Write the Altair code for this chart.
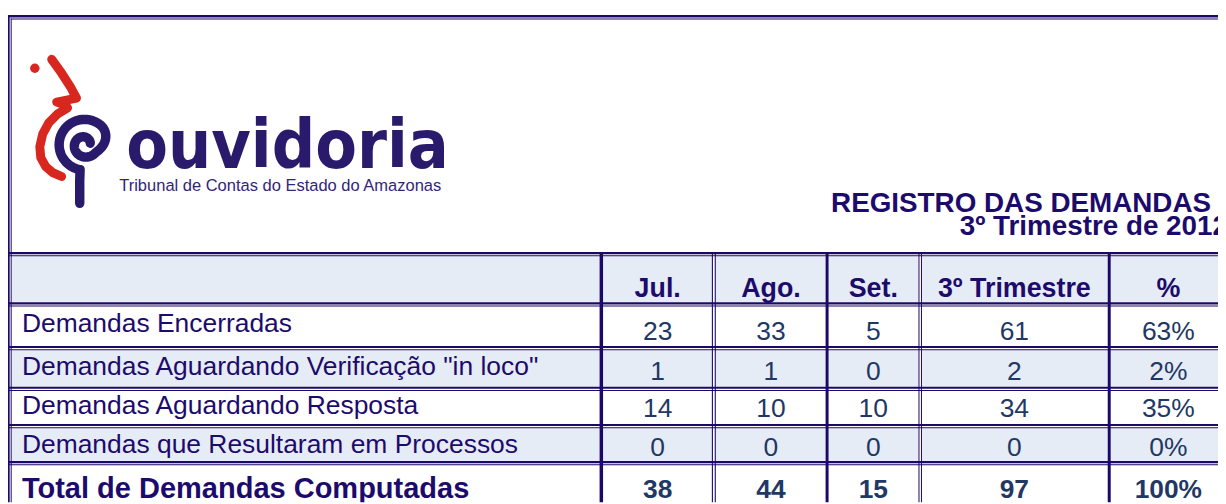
import math
import altair as alt
import pandas as pd

# ------------------------------------------------------------------ data
ROW_LABELS = [
    "Demandas Encerradas",
    'Demandas Aguardando Verificação "in loco"',
    "Demandas Aguardando Resposta",
    "Demandas que Resultaram em Processos",
]
TOTAL_LABEL = "Total de Demandas Computadas"
COLUMNS = ["Jul.", "Ago.", "Set.", "3º Trimestre", "%"]
JUL = [23, 1, 14, 0, 38]
AGO = [33, 1, 10, 0, 44]
SET = [5, 0, 10, 0, 15]
TRIMESTRE = [61, 2, 34, 0, 97]
PERCENT = ["63%", "2%", "35%", "0%", "100%"]
TITLE = "REGISTRO DAS DEMANDAS"
SUBTITLE = "3º Trimestre de 2012"
LOGO_WORD = "ouvidoria"
LOGO_TAGLINE = "Tribunal de Contas do Estado do Amazonas"

# ------------------------------------------------------------------ layout (page pixels)
W, H = 1218, 496
FONT = "Liberation Sans, Arial, Helvetica, sans-serif"
NAVY = "#1D0B6C"
LINE = "#1C0868"
NUM = "#1F3864"
SHADE = "#E6ECF6"
RED = "#D8271E"
LOGO_NAVY = "#2A1A6C"

COL_SPANS = [(12, 603.5), (607, 716.5), (720.5, 831), (834, 924.5), (928, 1115), (1118, 1236)]
COL_CENTERS = [662, 776, 879, 1021, 1176]
ROW_BOUNDS = [252, 302.5, 346.5, 387.5, 425, 462.3, 530]
SHADED = [True, False, True, False, True, False]
HEADER_Y = 297
LABEL_Y = [332, 376, 415, 454]
NUM_Y = [341, 381, 418, 457]
TOTAL_Y = 500

XS = alt.Scale(domain=[8, 8 + W], range=[0, W], nice=False, zero=False)
YS = alt.Scale(domain=[8, 8 + H], range=[0, H], nice=False, zero=False)


def xy():
    return dict(x=alt.X("x:Q", scale=XS, axis=None), y=alt.Y("y:Q", scale=YS, axis=None))


def rect_layer(rows, color):
    df = pd.DataFrame(rows, columns=["x", "x2", "y", "y2"])
    return alt.Chart(df).mark_rect(color=color, clip=True).encode(
        x2="x2:Q", y2="y2:Q", **xy()
    )


def text_layer(rows, size, weight="normal", color=NAVY, align="left", font=FONT):
    df = pd.DataFrame(rows, columns=["x", "y", "t"])
    return alt.Chart(df).mark_text(
        align=align, baseline="alphabetic", fontSize=size, fontWeight=weight,
        color=color, font=font, clip=True
    ).encode(text="t:N", **xy())


# cell fills
fills = []
for i, sh in enumerate(SHADED):
    if sh:
        for (a, b) in COL_SPANS:
            fills.append((a, b, ROW_BOUNDS[i] + 4.3, ROW_BOUNDS[i + 1]))
fill_layer = rect_layer(fills, SHADE)

# borders
lines = []
lines.append((7, 1240, 13.3, 16))
lines.append((10.7, 1240, 17, 18))
lines.append((7, 9.7, 13.3, 530))
lines.append((10.7, 11.7, 17, 530))
for b in ROW_BOUNDS[:-1]:
    lines.append((7, 1240, b, b + 2.2))
    lines.append((7, 1240, b + 3.3, b + 4.3))
top = ROW_BOUNDS[0]
for (a, b) in [(603.5, 607), (716.5, 717.6), (719.4, 720.5), (831, 834),
               (924.5, 925.5), (927, 928), (1115, 1118)]:
    lines.append((a, b, top, 530))
line_layer = rect_layer(lines, LINE)

# texts
title = text_layer([(1219, 212, TITLE)], 28, "bold", NAVY, "right")
subtitle = text_layer([(1236, 235, SUBTITLE)], 28, "bold", NAVY, "right")
header = text_layer([(c, HEADER_Y, t) for c, t in zip(COL_CENTERS, COLUMNS)],
                    27, "bold", NAVY, "center")
labels = text_layer([(22, y, t) for y, t in zip(LABEL_Y, ROW_LABELS)], 26.6, "normal", NAVY)
total_label = text_layer([(22, TOTAL_Y, TOTAL_LABEL)], 29.2, "bold", NAVY)

series = [JUL, AGO, SET, TRIMESTRE, PERCENT]
num_rows = []
tot_rows = []
for c, vals in zip(COL_CENTERS, series):
    for r in range(4):
        num_rows.append((c, NUM_Y[r], str(vals[r])))
    tot_rows.append((c, TOTAL_Y, str(vals[4])))
numbers = text_layer(num_rows, 26.6, "normal", NUM, "center")
totals = text_layer(tot_rows, 26.5, "bold", NUM, "center")

# logo
logo_word = text_layer([(127, 167, LOGO_WORD)], 68, "bold", LOGO_NAVY, "left",
                       "Liberation Sans Narrow, DejaVu Sans Condensed, Arial Narrow, Liberation Sans, sans-serif")
logo_tag = text_layer([(120, 191, LOGO_TAGLINE)], 16.6, "normal", "#33257A", "left")

# spiral outline of the logo mark (decoration geometry)
cx, cy = 85, 144
deg = math.pi / 180
spiral = []
for k in range(61):
    t = k / 60
    th = (345 - 300 * t) * deg
    r = 6 + 7.5 * t
    spiral.append((cx + r * math.cos(th), cy + r * math.sin(th)))
for k in range(1, 31):
    t = k / 30
    th = (45 - 95 * t) * deg
    r = 13.5 + 12 * (1 - math.cos(math.pi * t)) / 2
    spiral.append((cx + r * math.cos(th), cy + r * math.sin(th)))
for k in range(1, 61):
    t = k / 60
    th = (-50 - 210 * t) * deg
    r = 25.5
    spiral.append((cx + r * math.cos(th), cy + r * math.sin(th)))
spiral.append((cx - 4.8, cy + 36))
spiral.append((cx - 4.8, 203))
spiral_df = pd.DataFrame([(i, x, y) for i, (x, y) in enumerate(spiral)], columns=["i", "x", "y"])
spiral_layer = alt.Chart(spiral_df).mark_line(
    color=LOGO_NAVY, strokeWidth=9.5, strokeCap="round", strokeJoin="round", clip=True
).encode(order="i:Q", **xy())

red_path = [(52, 58), (62, 72), (71, 86), (77, 97), (67, 99), (57, 101), (66, 104),
            (68, 107), (58, 113), (49, 122), (43, 133), (40, 146), (41, 157),
            (46, 166), (53, 172), (62, 176)]
red_df = pd.DataFrame([(i, x, y) for i, (x, y) in enumerate(red_path)], columns=["i", "x", "y"])
red_layer = alt.Chart(red_df).mark_line(
    color=RED, strokeWidth=9, strokeCap="round", strokeJoin="round", clip=True
).encode(order="i:Q", **xy())
red_dot = alt.Chart(pd.DataFrame([(35, 67)], columns=["x", "y"])).mark_circle(
    color=RED, size=90, opacity=1
).encode(**xy())

chart = alt.layer(
    fill_layer, line_layer, title, subtitle, header, labels, total_label, numbers, totals,
    red_layer, red_dot, spiral_layer, logo_word, logo_tag
).properties(
    width=W, height=H, autosize=alt.AutoSizeParams(type="none"), padding=0,
    background="white"
).configure_view(stroke="transparent")

chart.save("out.html", embed_options={"renderer": "svg", "actions": False})
